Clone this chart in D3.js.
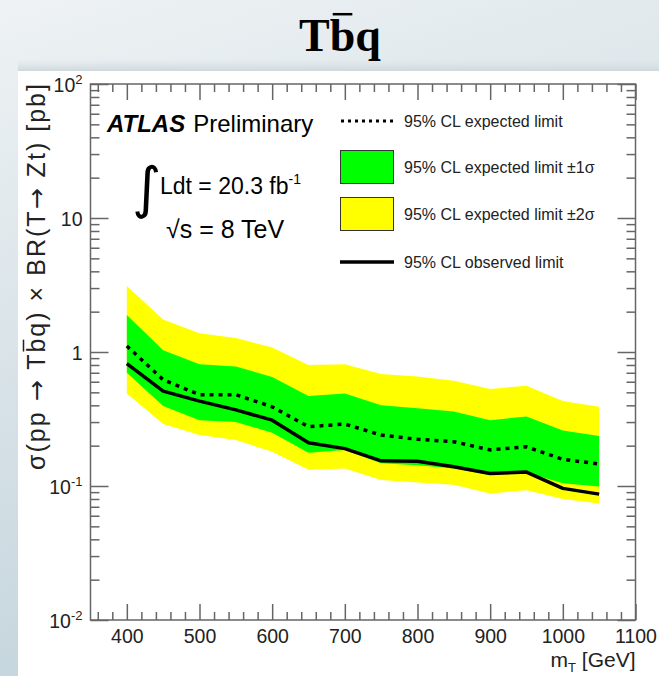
<!DOCTYPE html>
<html>
<head>
<meta charset="utf-8">
<script src="https://cdn.jsdelivr.net/npm/d3@7"></script>
<style>
  body { margin: 0; background: #fff; }
  svg { display: block; }
  text { font-family: "Liberation Sans", Arial, sans-serif; }
</style>
</head>
<body>
<div id="chart"></div>
<script>
// masses (GeV) and limits (pb)
const masses = [400, 450, 500, 550, 600, 650, 700, 750, 800, 850, 900, 950, 1000, 1050];
const observed = [0.82, 0.51, 0.43, 0.37, 0.31, 0.21, 0.19, 0.154, 0.153, 0.139, 0.124, 0.127, 0.096, 0.087];
const expected = [1.11, 0.62, 0.48, 0.48, 0.39, 0.277, 0.29, 0.24, 0.223, 0.214, 0.186, 0.196, 0.158, 0.146];
const oneSigmaUp = [1.89, 1.03, 0.81, 0.78, 0.65, 0.47, 0.49, 0.40, 0.38, 0.36, 0.31, 0.33, 0.26, 0.236];
const oneSigmaDown = [0.70, 0.395, 0.31, 0.30, 0.25, 0.177, 0.186, 0.148, 0.143, 0.135, 0.121, 0.126, 0.105, 0.099];
const twoSigmaUp = [3.11, 1.75, 1.38, 1.27, 1.08, 0.80, 0.81, 0.685, 0.655, 0.61, 0.53, 0.56, 0.43, 0.39];
const twoSigmaDown = [0.49, 0.29, 0.24, 0.22, 0.18, 0.132, 0.135, 0.111, 0.106, 0.102, 0.088, 0.093, 0.080, 0.074];

const xMajor = [400, 500, 600, 700, 800, 900, 1000, 1100];
const yMajor = [0.01, 0.1, 1, 10, 100];
const yLabels = [["10", "-2"], ["10", "-1"], ["1", ""], ["10", ""], ["10", "2"]];
const legendItems = ["95% CL expected limit", "95% CL expected limit \u00b11\u03c3",
                     "95% CL expected limit \u00b12\u03c3", "95% CL observed limit"];

const w = 659, h = 676;
const padL = 90.5, padR = 635.5, padT = 84, padB = 620;

const svg = d3.select("#chart").append("svg")
    .attr("width", w)
    .attr("height", h);

// slide background
const defs = svg.append("defs");
const bg = defs.append("linearGradient").attr("id", "bg")
    .attr("x1", 0).attr("y1", 0).attr("x2", 0.3).attr("y2", 1);
bg.append("stop").attr("offset", 0).attr("stop-color", "#eef2f4");
bg.append("stop").attr("offset", 1).attr("stop-color", "#c3d4dc");
const shade = defs.append("linearGradient").attr("id", "shade")
    .attr("x1", 0).attr("y1", 0).attr("x2", 0).attr("y2", 1);
shade.append("stop").attr("offset", 0).attr("stop-color", "#dfe6e9").attr("stop-opacity", 0);
shade.append("stop").attr("offset", 1).attr("stop-color", "#cfd8dc").attr("stop-opacity", 1);

svg.append("rect").attr("width", w).attr("height", h).attr("fill", "url(#bg)");
svg.append("rect").attr("x", 18).attr("y", 58).attr("width", w - 18).attr("height", 13).attr("fill", "url(#shade)");
svg.append("rect").attr("x", 18).attr("y", 71).attr("width", w - 18).attr("height", h - 71).attr("fill", "#fff");

// title
const title = svg.append("text")
    .attr("x", 340).attr("y", 51)
    .attr("text-anchor", "middle")
    .style("font-family", "'Liberation Serif', serif")
    .style("font-weight", "bold")
    .style("font-size", "46px")
    .text("Tbq");
{
    const ext = title.node().getExtentOfChar(1);
    svg.append("line")
        .attr("x1", ext.x + 3).attr("x2", ext.x + ext.width - 3)
        .attr("y1", 51 - 46 * 0.8).attr("y2", 51 - 46 * 0.8)
        .attr("stroke", "#000").attr("stroke-width", 2.5);
}

const x = d3.scaleLinear().domain([350, 1100]).range([padL, padR]);
const y = d3.scaleLog().domain([0.01, 100]).range([padB, padT]);

// bands
const area = (lo, hi) => d3.area()
    .x((d, i) => x(masses[i]))
    .y0((d, i) => y(lo[i]))
    .y1((d, i) => y(hi[i]));
svg.append("path").datum(masses).attr("d", area(twoSigmaDown, twoSigmaUp)).attr("fill", "#ffff00");
svg.append("path").datum(masses).attr("d", area(oneSigmaDown, oneSigmaUp)).attr("fill", "#00ff00");

const line = vals => d3.line().x((d, i) => x(masses[i])).y((d, i) => y(vals[i]));
svg.append("path").datum(masses).attr("d", line(expected))
    .attr("fill", "none").attr("stroke", "#000").attr("stroke-width", 3.5)
    .attr("stroke-dasharray", "4,5");
svg.append("path").datum(masses).attr("d", line(observed))
    .attr("fill", "none").attr("stroke", "#000").attr("stroke-width", 3.5)
    .attr("stroke-linejoin", "round");

// axes
const xMinor = d3.range(360, 1101, 20).filter(v => v % 100 !== 0);
const yMinor = [];
[0.01, 0.1, 1, 10].forEach(p => { for (let k = 2; k <= 9; k++) yMinor.push(p * k); });
const axisColor = "#666";

const styleAxis = g => {
    g.select(".domain").remove();
    g.selectAll("line").attr("stroke", axisColor).attr("stroke-width", 1.5);
};

svg.append("g").attr("transform", `translate(0,${padB})`)
    .call(d3.axisBottom(x).tickValues(xMajor).tickSize(-16).tickPadding(9).tickFormat(d3.format("d")))
    .call(styleAxis)
    .call(g => g.selectAll("text").style("font-size", "19.5px").attr("fill", "#222")
        .style("font-family", "'Liberation Sans', Arial, sans-serif"));
svg.append("g").attr("transform", `translate(0,${padB})`)
    .call(d3.axisBottom(x).tickValues(xMinor).tickSize(-8).tickFormat(""))
    .call(styleAxis);
svg.append("g").attr("transform", `translate(0,${padT})`)
    .call(d3.axisTop(x).tickValues(xMajor).tickSize(-16).tickFormat(""))
    .call(styleAxis);
svg.append("g").attr("transform", `translate(0,${padT})`)
    .call(d3.axisTop(x).tickValues(xMinor).tickSize(-8).tickFormat(""))
    .call(styleAxis);

const yAxis = svg.append("g").attr("transform", `translate(${padL},0)`)
    .call(d3.axisLeft(y).tickValues(yMajor).tickSize(-18).tickPadding(8).tickFormat(""))
    .call(styleAxis);
yAxis.selectAll(".tick text").each(function(d, i) {
    const t = d3.select(this)
        .style("font-size", "19.5px").attr("fill", "#222")
        .style("font-family", "'Liberation Sans', Arial, sans-serif")
        .attr("dy", "0.36em");
    const lab = yLabels[i];
    t.append("tspan").text(lab[0]);
    if (lab[1]) t.append("tspan").attr("dy", -8).style("font-size", "13px").text(lab[1]);
});
svg.append("g").attr("transform", `translate(${padL},0)`)
    .call(d3.axisLeft(y).tickValues(yMinor).tickSize(-9).tickFormat(""))
    .call(styleAxis);
svg.append("g").attr("transform", `translate(${padR},0)`)
    .call(d3.axisRight(y).tickValues(yMajor).tickSize(-18).tickFormat(""))
    .call(styleAxis);
svg.append("g").attr("transform", `translate(${padR},0)`)
    .call(d3.axisRight(y).tickValues(yMinor).tickSize(-9).tickFormat(""))
    .call(styleAxis);

svg.append("rect")
    .attr("x", padL).attr("y", padT)
    .attr("width", padR - padL).attr("height", padB - padT)
    .attr("fill", "none").attr("stroke", axisColor).attr("stroke-width", 1.5);

// axis titles
const xt = svg.append("text")
    .attr("x", padR).attr("y", 667)
    .attr("text-anchor", "end")
    .style("font-size", "21px").attr("fill", "#222");
xt.append("tspan").text("m");
xt.append("tspan").attr("dy", 5).style("font-size", "13px").text("T");
xt.append("tspan").attr("dy", -5).text(" [GeV]");

const yg = svg.append("g").attr("transform", "translate(45,84) rotate(-90)");
const yt = yg.append("text")
    .attr("x", 0).attr("y", 0)
    .attr("text-anchor", "end")
    .attr("textLength", 386)
    .style("font-size", "25px").attr("fill", "#222");
[["\u03c3(pp ", false], ["\u2192", true], [" Tbq) \u00d7 BR(T", false], ["\u2192", true], [" Zt) [pb]", false]]
    .forEach(([s, arrow]) => {
        const ts = yt.append("tspan").text(s);
        if (arrow) ts.style("font-family", "'DejaVu Sans', sans-serif");
    });
{
    const ext = yt.node().getExtentOfChar(8);
    yg.append("line")
        .attr("x1", ext.x + 1).attr("x2", ext.x + ext.width - 1)
        .attr("y1", -25 * 0.86).attr("y2", -25 * 0.86)
        .attr("stroke", "#222").attr("stroke-width", 1.5);
}

// ATLAS label
const atlas = svg.append("text").attr("x", 107).attr("y", 132).style("font-size", "24px");
atlas.append("tspan").style("font-weight", "bold").style("font-style", "italic").text("ATLAS");
atlas.append("tspan").attr("dx", 8).text("Preliminary");

svg.append("text").attr("x", 132).attr("y", 207)
    .style("font-family", "'DejaVu Sans', sans-serif").style("font-size", "56px")
    .text("\u222b");
const lumi = svg.append("text").attr("x", 160).attr("y", 194).style("font-size", "23px");
lumi.append("tspan").text("Ldt = 20.3 fb");
lumi.append("tspan").attr("dy", -10).style("font-size", "14px").text("-1");
svg.append("text").attr("x", 166).attr("y", 238).style("font-size", "25px")
    .text("\u221as = 8 TeV");

// legend
const lg = svg.append("g").attr("transform", "translate(340,0)");
const rowY = [121, 167, 214, 262];
lg.append("line").attr("x1", 1).attr("x2", 53).attr("y1", rowY[0]).attr("y2", rowY[0])
    .attr("stroke", "#000").attr("stroke-width", 3).attr("stroke-dasharray", "3,4");
lg.append("rect").attr("x", 0.5).attr("y", rowY[1] - 16.5).attr("width", 53).attr("height", 33)
    .attr("fill", "#00ff00").attr("stroke", "#333").attr("stroke-width", 1);
lg.append("rect").attr("x", 0.5).attr("y", rowY[2] - 16.5).attr("width", 53).attr("height", 33)
    .attr("fill", "#ffff00").attr("stroke", "#333").attr("stroke-width", 1);
lg.append("line").attr("x1", 0).attr("x2", 54).attr("y1", rowY[3]).attr("y2", rowY[3])
    .attr("stroke", "#000").attr("stroke-width", 3.5);
lg.selectAll("text.leg").data(legendItems).enter().append("text")
    .attr("class", "leg")
    .attr("x", 64).attr("y", (d, i) => rowY[i] + 6)
    .style("font-size", "16px").attr("fill", "#222")
    .text(d => d);
</script>
</body>
</html>
